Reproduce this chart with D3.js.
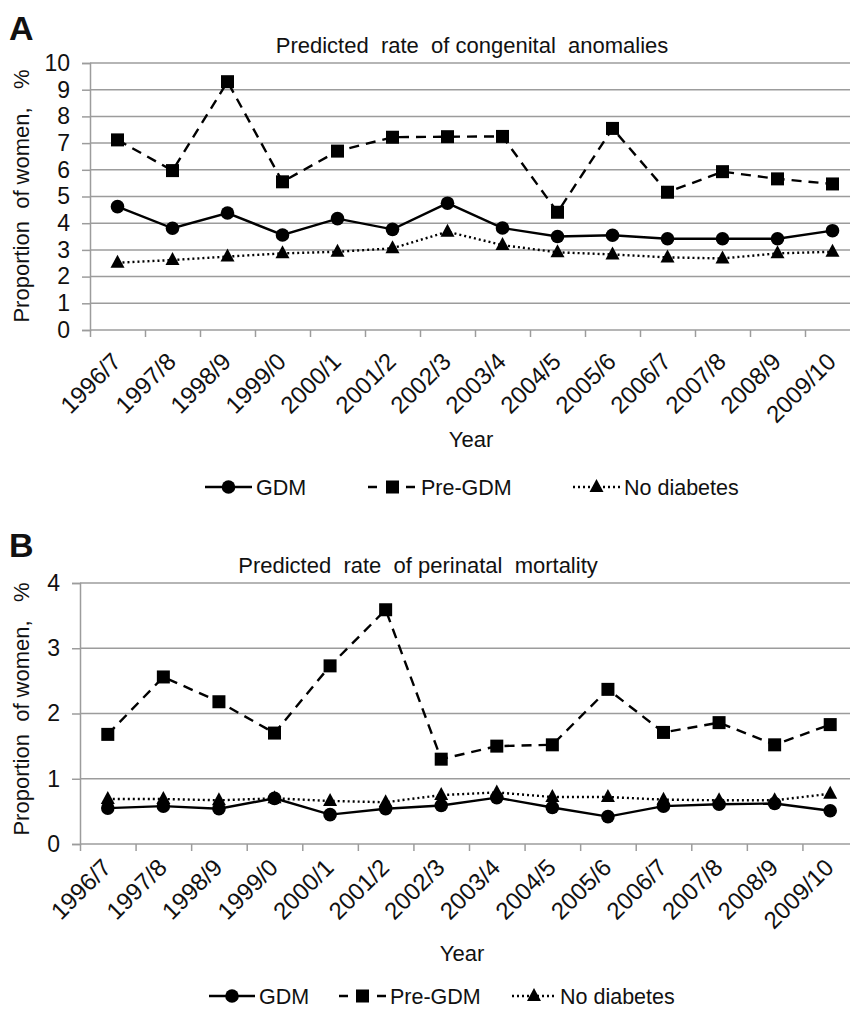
<!DOCTYPE html>
<html>
<head>
<meta charset="utf-8">
<script src="https://cdn.jsdelivr.net/npm/d3@7"></script>
<style>
	body { margin: 0; background: #fff; }
	svg text { font-family: "Liberation Sans", Arial, sans-serif; fill: #111; }
</style>
</head>
<body>
<div id="chart"></div>
<script>
// years on the x axis
var years = ["1996/7", "1997/8", "1998/9", "1999/0", "2000/1", "2001/2", "2002/3",
	"2003/4", "2004/5", "2005/6", "2006/7", "2007/8", "2008/9", "2009/10"];

// panel A: congenital anomalies (%)
var anomGDM = [4.62, 3.81, 4.38, 3.56, 4.17, 3.77, 4.75, 3.82, 3.50, 3.55, 3.42, 3.42, 3.42, 3.72];
var anomPreGDM = [7.12, 5.97, 9.30, 5.55, 6.70, 7.22, 7.24, 7.25, 4.41, 7.55, 5.16, 5.93, 5.66, 5.47];
var anomNoDiab = [2.52, 2.62, 2.75, 2.87, 2.93, 3.06, 3.68, 3.18, 2.91, 2.83, 2.72, 2.68, 2.87, 2.93];

// panel B: perinatal mortality (%)
var mortGDM = [0.55, 0.58, 0.54, 0.70, 0.45, 0.54, 0.59, 0.71, 0.56, 0.42, 0.58, 0.61, 0.62, 0.51];
var mortPreGDM = [1.68, 2.56, 2.18, 1.70, 2.73, 3.59, 1.30, 1.50, 1.52, 2.37, 1.71, 1.86, 1.52, 1.83];
var mortNoDiab = [0.69, 0.69, 0.67, 0.70, 0.66, 0.64, 0.75, 0.79, 0.72, 0.72, 0.68, 0.67, 0.67, 0.77];

var seriesNames = ["GDM", "Pre-GDM", "No diabetes"];

var W = 850, H = 1011;
var gridColor = "#9c9c9c";

var svg = d3.select("#chart").append("svg")
	.attr("width", W)
	.attr("height", H);

// line + marker styles per series
var styles = [
	{ dash: null, marker: "circle" },
	{ dash: "10,7", marker: "square" },
	{ dash: "2,3", marker: "triangle" }
];

function drawMarker(g, type, x, y) {
	if (type == "circle") {
		g.append("circle").attr("cx", x).attr("cy", y).attr("r", 6.8).attr("fill", "#000");
	} else if (type == "square") {
		g.append("rect").attr("x", x - 6.5).attr("y", y - 6.5).attr("width", 13).attr("height", 13).attr("fill", "#000");
	} else {
		g.append("path").attr("d", "M" + x + "," + (y - 8) + "L" + (x + 7) + "," + (y + 5) + "L" + (x - 7) + "," + (y + 5) + "Z").attr("fill", "#000");
	}
}

function drawPanel(opts) {
	var g = svg.append("g");

	var x = d3.scaleLinear().domain([0, years.length]).range([opts.left, opts.right]);
	var band = d3.scaleBand().domain(years).range([opts.left, opts.right]);
	var y = d3.scaleLinear().domain([0, opts.yMax]).range([opts.bottom, opts.top]);

	// panel letter
	g.append("text")
		.attr("x", 9)
		.attr("y", opts.letterY)
		.style("font-size", "34px")
		.style("font-weight", "bold")
		.text(opts.letter);

	// title
	g.append("text")
		.attr("x", opts.titleX)
		.attr("y", opts.top - 10)
		.attr("text-anchor", "middle")
		.style("font-size", "22px")
		.style("white-space", "pre")
		.text(opts.title);

	// gridlines
	g.append("g").selectAll("line")
		.data(d3.range(1, opts.yMax + 1))
		.enter().append("line")
		.attr("x1", opts.left).attr("x2", W)
		.attr("y1", function(d) { return y(d); })
		.attr("y2", function(d) { return y(d); })
		.attr("stroke", gridColor)
		.attr("stroke-width", 1.5);

	// y axis
	var yAxis = d3.axisLeft(y).ticks(opts.yMax).tickSize(8).tickPadding(12);
	var ya = g.append("g")
		.attr("transform", "translate(" + opts.left + ",0)")
		.call(yAxis);
	ya.selectAll("text").style("font-size", "23px").attr("fill", "#111");

	// x axis, ticks between categories
	var xAxis = d3.axisBottom(x).tickValues(d3.range(years.length + 1)).tickSize(7).tickFormat("");
	var xa = g.append("g")
		.attr("transform", "translate(0," + opts.bottom + ")")
		.call(xAxis);

	[ya, xa].forEach(function(a) {
		a.select(".domain").attr("stroke", gridColor).attr("stroke-width", 1.5);
		a.selectAll(".tick line").attr("stroke", gridColor).attr("stroke-width", 1.5);
	});
	xa.select(".domain").attr("d", "M" + opts.left + ",0H" + W);

	// rotated year labels
	g.append("g").selectAll("text")
		.data(years)
		.enter().append("text")
		.attr("text-anchor", "end")
		.attr("transform", function(d) {
			var cx = band(d) + band.bandwidth() / 2 + 5;
			return "translate(" + cx + "," + (opts.bottom + opts.labelDy) + ") rotate(-45)";
		})
		.style("font-size", "24px")
		.text(function(d) { return d; });

	// axis titles
	g.append("text")
		.attr("x", opts.yearX)
		.attr("y", opts.bottom + 117)
		.attr("text-anchor", "middle")
		.style("font-size", "22px")
		.text("Year");

	g.append("text")
		.attr("transform", "translate(29," + opts.yLabelY + ") rotate(-90)")
		.attr("text-anchor", "middle")
		.style("font-size", "22px")
		.style("white-space", "pre")
		.text("Proportion  of women,   %");

	// series
	var line = d3.line()
		.x(function(d, i) { return band(years[i]) + band.bandwidth() / 2; })
		.y(function(d) { return y(d); });

	opts.series.forEach(function(vals, s) {
		g.append("path")
			.datum(vals)
			.attr("d", line)
			.attr("fill", "none")
			.attr("stroke", "#000")
			.attr("stroke-width", 2.4)
			.attr("stroke-dasharray", styles[s].dash);
	});
	opts.series.forEach(function(vals, s) {
		vals.forEach(function(v, i) {
			drawMarker(g, styles[s].marker, band(years[i]) + band.bandwidth() / 2, y(v));
		});
	});

	// legend
	var ly = opts.bottom + opts.legendDy;
	opts.legend.forEach(function(l, s) {
		var lg = g.append("g");
		lg.append("line")
			.attr("x1", l[0]).attr("x2", l[1])
			.attr("y1", ly).attr("y2", ly)
			.attr("stroke", "#000")
			.attr("stroke-width", 2.4)
			.attr("stroke-dasharray", s == 1 ? "9,29" : styles[s].dash);
		drawMarker(lg, styles[s].marker, (l[0] + l[1]) / 2, ly);
		lg.append("text")
			.attr("x", l[1] + 4)
			.attr("y", ly + 8)
			.style("font-size", "21.5px")
			.text(seriesNames[s]);
	});
}

drawPanel({
	letter: "A",
	letterY: 40,
	title: "Predicted  rate  of congenital  anomalies",
	titleX: 472,
	left: 90, right: 860, top: 63, bottom: 330,
	yMax: 10,
	labelDy: 33,
	legendDy: 157,
	yearX: 471,
	yLabelY: 196,
	series: [anomGDM, anomPreGDM, anomNoDiab],
	legend: [[205, 252], [368, 417], [573, 620]]
});

drawPanel({
	letter: "B",
	letterY: 557,
	title: "Predicted  rate  of perinatal  mortality",
	titleX: 418,
	left: 80, right: 858, top: 583, bottom: 844,
	yMax: 4,
	labelDy: 25,
	legendDy: 152,
	yearX: 462,
	yLabelY: 709,
	series: [mortGDM, mortPreGDM, mortNoDiab],
	legend: [[209, 255], [339, 386], [512, 556]]
});
</script>
</body>
</html>
